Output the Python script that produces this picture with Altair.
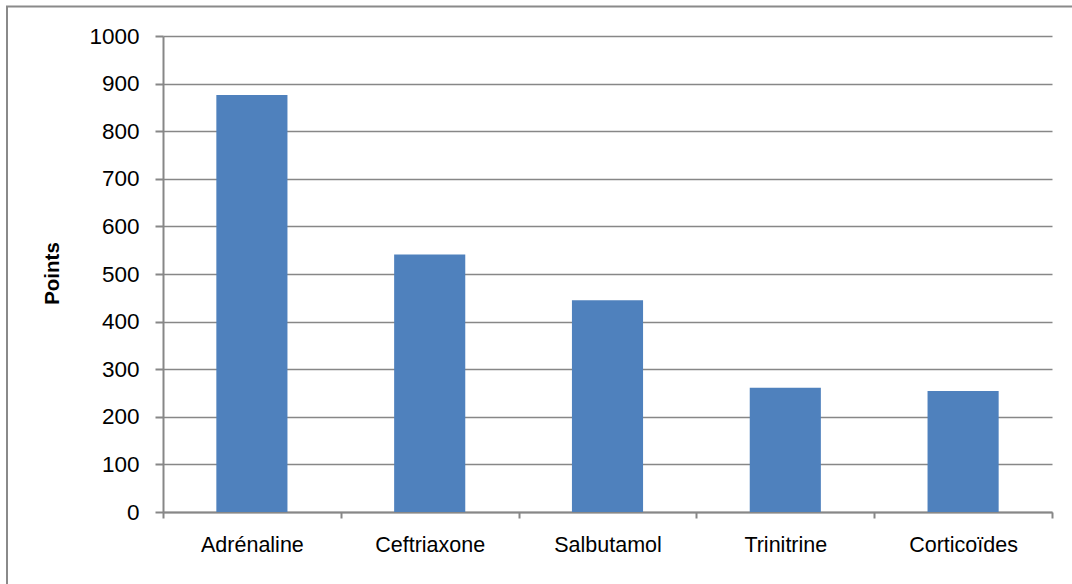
import altair as alt
import pandas as pd

# Points per drug
drugs = ["Adrénaline", "Ceftriaxone", "Salbutamol", "Trinitrine", "Corticoïdes"]
points = [876, 541, 445, 261, 254]

df = pd.DataFrame({"drug": drugs, "points": points})

GRAY = "#878787"
FONT = "Liberation Sans"
W, H = 889, 476

bars = alt.Chart(df).mark_bar(
    color="#4F81BD", width=alt.RelativeBandSize(0.4)
).encode(
    x=alt.X(
        "drug:N",
        sort=drugs,
        title=None,
        scale=alt.Scale(paddingInner=0, paddingOuter=0),
        axis=alt.Axis(
            tickBand="extent",
            labelAngle=0,
            labelFont=FONT,
            labelFontSize=21.5,
            labelColor="#000000",
            labelPadding=16,
            tickSize=6,
            tickColor=GRAY,
            domainColor=GRAY,
            domainWidth=2,
            tickWidth=2,
            grid=False,
        ),
    ),
    y=alt.Y(
        "points:Q",
        title="Points",
        scale=alt.Scale(domain=[0, 1000], nice=False),
        axis=alt.Axis(
            values=list(range(0, 1001, 100)),
            format="d",
            labelFont=FONT,
            labelFontSize=22.5,
            labelColor="#000000",
            labelPadding=16,
            tickSize=8,
            tickColor=GRAY,
            tickWidth=2,
            domainColor=GRAY,
            domainWidth=2,
            gridColor=GRAY,
            gridWidth=1.5,
            titleFont=FONT,
            titleFontSize=20.5,
            titleFontWeight="bold",
            titleColor="#000000",
            titleX=-101,
            titleY=H / 2 - 1,
            titleAngle=270,
            titleAlign="center",
            titleBaseline="bottom",
        ),
    ),
)

# frame around the chart area (top and left edges visible)
frame = alt.Chart(pd.DataFrame({"k": [0]})).mark_rect(
    fill="transparent", stroke="#8a8a8a", strokeWidth=2
).encode(
    x=alt.value(-156),
    x2=alt.value(W + 60),
    y=alt.value(-29.5),
    y2=alt.value(H + 120),
)

chart = alt.layer(frame, bars).properties(
    width=W,
    height=H,
    padding={"left": 163, "top": 36, "right": 20, "bottom": 72},
    autosize=alt.AutoSizeParams(type="none"),
    background="white",
).configure_view(stroke=None)

chart.save("out.html", embed_options={"renderer": "svg", "actions": False})
